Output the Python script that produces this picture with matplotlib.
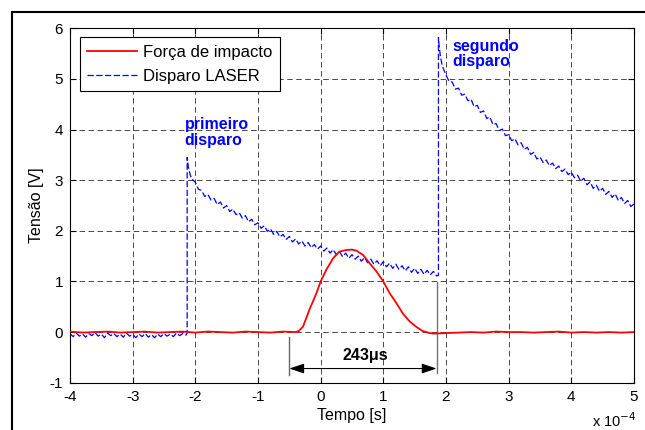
import numpy as np
import matplotlib
matplotlib.use('Agg')
import matplotlib.pyplot as plt
from matplotlib.patches import Rectangle

plt.rcParams['font.family'] = ['Liberation Sans', 'DejaVu Sans']
plt.rcParams['axes.unicode_minus'] = False

# ── Disparo LASER (blue trace) ──────────────────────────────────────────
# baseline before the first shot
laser_base_x = [-4.00, -3.95, -3.90, -3.85, -3.80, -3.75, -3.70, -3.65, -3.60, -3.55,
                -3.50, -3.45, -3.40, -3.35, -3.30, -3.25, -3.20, -3.15, -3.10, -3.05,
                -3.00, -2.95, -2.90, -2.85, -2.80, -2.75, -2.70, -2.65, -2.60, -2.55,
                -2.50, -2.45, -2.40, -2.35, -2.30, -2.25, -2.20, -2.15, -2.13]
laser_base_y = [-0.03, -0.09, -0.02, -0.08, -0.04, -0.10, -0.03, -0.07, -0.01, -0.08,
                -0.04, -0.11, -0.02, -0.07, -0.03, -0.09, -0.04, -0.10, -0.02, -0.08,
                -0.05, -0.11, -0.04, -0.09, -0.03, -0.10, -0.05, -0.11, -0.04, -0.09,
                -0.03, -0.08, -0.04, -0.09, -0.02, -0.07, -0.03, -0.06, -0.02]

# first shot (primeiro disparo)
laser_first_x = [-2.13, -2.11, -2.08, -2.05,
                 -2.00, -1.95, -1.90, -1.85, -1.80, -1.75, -1.70, -1.65, -1.60, -1.55,
                 -1.50, -1.45, -1.40, -1.35, -1.30, -1.25, -1.20, -1.15, -1.10, -1.05,
                 -1.00, -0.95, -0.90, -0.85, -0.80, -0.75, -0.70, -0.65, -0.60, -0.55,
                 -0.50, -0.45, -0.40, -0.35, -0.30, -0.25, -0.20, -0.15, -0.10, -0.05,
                 0.00, 0.05, 0.10, 0.15, 0.20, 0.25, 0.30, 0.35, 0.40, 0.45,
                 0.50, 0.55, 0.60, 0.65, 0.70, 0.75, 0.80, 0.85, 0.90, 0.95,
                 1.00, 1.05, 1.10, 1.15, 1.20, 1.25, 1.30, 1.35, 1.40, 1.45,
                 1.50, 1.55, 1.60, 1.65, 1.70, 1.75, 1.80, 1.85, 1.88]
laser_first_y = [3.45, 3.25, 3.10, 3.02,
                 2.96, 2.82, 2.80, 2.68, 2.72, 2.61, 2.64, 2.52, 2.57, 2.45,
                 2.50, 2.38, 2.43, 2.32, 2.36, 2.25, 2.30, 2.18, 2.23, 2.12,
                 2.16, 2.05, 2.10, 1.99, 2.04, 1.93, 1.99, 1.88, 1.93, 1.83,
                 1.89, 1.78, 1.84, 1.74, 1.80, 1.70, 1.77, 1.67, 1.73, 1.64,
                 1.70, 1.60, 1.66, 1.56, 1.63, 1.53, 1.59, 1.49, 1.56, 1.46,
                 1.53, 1.44, 1.50, 1.40, 1.47, 1.37, 1.44, 1.34, 1.41, 1.31,
                 1.39, 1.29, 1.36, 1.26, 1.34, 1.24, 1.31, 1.21, 1.29, 1.18,
                 1.26, 1.16, 1.24, 1.14, 1.22, 1.13, 1.20, 1.11, 1.12]

# second shot (segundo disparo)
laser_second_x = [1.88, 1.89, 1.91, 1.94,
                  2.00, 2.05, 2.10, 2.15, 2.20, 2.25, 2.30, 2.35, 2.40, 2.45,
                  2.50, 2.55, 2.60, 2.65, 2.70, 2.75, 2.80, 2.85, 2.90, 2.95,
                  3.00, 3.05, 3.10, 3.15, 3.20, 3.25, 3.30, 3.35, 3.40, 3.45,
                  3.50, 3.55, 3.60, 3.65, 3.70, 3.75, 3.80, 3.85, 3.90, 3.95,
                  4.00, 4.05, 4.10, 4.15, 4.20, 4.25, 4.30, 4.35, 4.40, 4.45,
                  4.50, 4.55, 4.60, 4.65, 4.70, 4.75, 4.80, 4.85, 4.90, 4.95, 5.00]
laser_second_y = [5.82, 5.66, 5.46, 5.26,
                  5.08, 4.95, 4.94, 4.80, 4.82, 4.68, 4.70, 4.57, 4.60, 4.45,
                  4.48, 4.34, 4.37, 4.22, 4.25, 4.10, 4.12, 3.98, 4.01, 3.88,
                  3.90, 3.78, 3.82, 3.70, 3.74, 3.61, 3.65, 3.51, 3.55, 3.42,
                  3.46, 3.35, 3.40, 3.29, 3.34, 3.23, 3.28, 3.17, 3.22, 3.11,
                  3.16, 3.05, 3.10, 2.98, 3.04, 2.91, 2.97, 2.84, 2.90, 2.78,
                  2.84, 2.72, 2.78, 2.66, 2.73, 2.60, 2.66, 2.54, 2.60, 2.48, 2.53]

laser_x = laser_base_x + laser_first_x + laser_second_x
laser_y = laser_base_y + laser_first_y + laser_second_y

# ── Força de impacto (red trace) ────────────────────────────────────────
force_x = [-4.0, -3.8, -3.6, -3.4, -3.2, -3.0, -2.8, -2.6, -2.4, -2.2,
           -2.0, -1.8, -1.6, -1.4, -1.2, -1.0, -0.8, -0.6, -0.4,
           -0.35, -0.28, -0.18, -0.07, 0.0, 0.09, 0.2, 0.3, 0.4, 0.5,
           0.57, 0.68, 0.78, 0.89, 1.0, 1.1, 1.21, 1.31, 1.42, 1.53,
           1.63, 1.74, 1.8, 2.0, 2.2, 2.4, 2.6, 2.8, 3.0, 3.2,
           3.4, 3.6, 3.8, 4.0, 4.2, 4.4, 4.6, 4.8, 5.0]
force_y = [0.01, -0.01, 0.0, 0.01, -0.01, 0.0, 0.01, -0.01, 0.0, 0.01,
           -0.01, 0.01, 0.0, -0.01, 0.01, 0.0, -0.01, 0.01, 0.0,
           0.02, 0.11, 0.44, 0.76, 1.00, 1.23, 1.46, 1.59, 1.62, 1.63,
           1.61, 1.52, 1.36, 1.20, 1.00, 0.77, 0.57, 0.37, 0.21, 0.10,
           0.02, -0.02, -0.03, -0.02, -0.01, 0.0, -0.01, 0.01, 0.0, 0.0,
           -0.01, 0.0, 0.01, -0.01, 0.0, -0.01, 0.0, -0.01, 0.0]

# ── annotation: pulse duration ─────────────────────────────────────────
dur_start, dur_end, dur_y = -0.5, 1.85, -0.72
dur_left_line = [-0.1, -0.85]
dur_right_line = [0.99, -0.81]
dur_label = '243\u03bcs'

fig = plt.figure(figsize=(6.45, 4.3), dpi=100)
ax = fig.add_axes([0.1085, 0.110, 0.8744, 0.824])

ax.plot(force_x, force_y, color='r', lw=1.3, label='Força de impacto', zorder=3)
ax.plot(laser_x, laser_y, color='b', lw=0.9, dashes=(5, 2), label='Disparo LASER', zorder=2)

# duration marker
ax.plot([dur_start, dur_start], dur_left_line, color='0.4', lw=1.0)
ax.plot([dur_end, dur_end], dur_right_line, color='0.45', lw=1.0)
ax.annotate('', xy=(dur_start, dur_y), xytext=(dur_end, dur_y),
            arrowprops=dict(arrowstyle='<|-|>,head_length=0.9,head_width=0.3',
                            color='k', lw=0.8, shrinkA=0, shrinkB=0))
ax.text(0.71, -0.46, dur_label, ha='center', va='center', fontsize=11.5,
        fontweight='bold')

ax.text(-2.17, 4.25, 'primeiro\ndisparo', color='b', fontsize=11.5,
        fontweight='bold', ha='left', va='top', linespacing=1.05)
ax.text(2.1, 5.8, 'segundo\ndisparo', color='b', fontsize=11.5,
        fontweight='bold', ha='left', va='top', linespacing=1.05)

ax.set_xlim(-4, 5)
ax.set_ylim(-1, 6)
ax.set_xticks(range(-4, 6))
ax.set_yticks(range(-1, 7))
ax.tick_params(direction='in', top=True, right=True, labelsize=11, length=4, pad=5)
ax.grid(True, color='k', lw=0.5, linestyle=(0, (8, 5)))
for s in ax.spines.values():
    s.set_linewidth(0.8)

ax.set_xlabel('Tempo [s]', fontsize=11.5, labelpad=3)
ax.set_ylabel('Tensão [V]', fontsize=11.5, labelpad=4)
fig.text(592 / 645, 0.006, 'x 10$^{-4}$', fontsize=10.5, ha='left', va='baseline')

leg = ax.legend(loc='upper left', bbox_to_anchor=(0.0177, 0.975), borderaxespad=0,
                fontsize=12, handlelength=3.0, handletextpad=0.35, borderpad=0.45,
                labelspacing=0.55, fancybox=False, framealpha=1, edgecolor='k')
leg.get_frame().set_linewidth(0.8)

# outer frame
fig.patches.append(Rectangle((12 / 645, -0.1), 1.2, 1 - 12 / 430 + 0.1,
                             transform=fig.transFigure, fill=False, lw=1.5,
                             edgecolor='k'))

fig.savefig('out.png', dpi=100)
